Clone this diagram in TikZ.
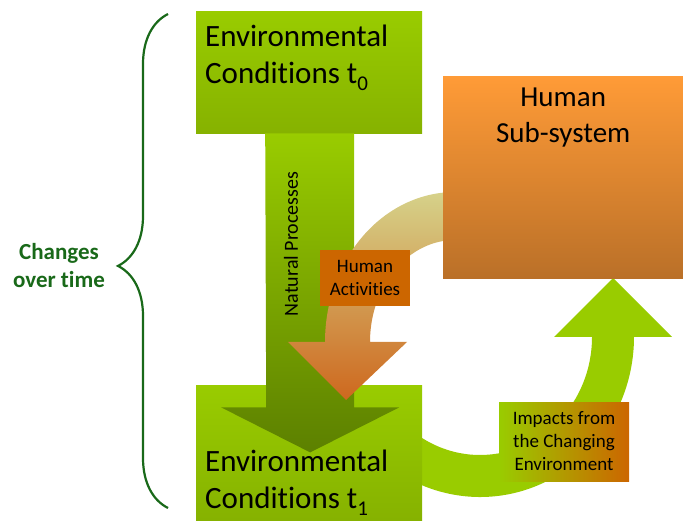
\documentclass[tikz,border=0pt]{standalone}
\usepackage{fontspec}
\setmainfont{Carlito}[Ligatures=NoCommon]
\definecolor{envgreen}{RGB}{153, 204, 0}
\definecolor{envdark}{RGB}{134, 178, 0}
\definecolor{arrowdark}{RGB}{92, 128, 0}
\definecolor{humtop}{RGB}{255, 155, 55}
\definecolor{humbot}{RGB}{186, 112, 40}
\definecolor{actorange}{RGB}{204, 102, 0}
\definecolor{actpale}{RGB}{214, 212, 140}
\definecolor{actmid}{RGB}{208, 152, 88}
\definecolor{actdark}{RGB}{206, 104, 30}
\definecolor{timegreen}{RGB}{25, 105, 25}
\usepackage{tikz}
\usetikzlibrary{decorations.pathreplacing}
\newcommand{\tsub}[1]{t\raisebox{-0.22em}{\fontsize{21}{21}\selectfont #1}}

\tikzset{
  envbox/.style={anchor=north west, inner xsep=9pt, top color=envgreen, bottom color=envdark, font=\fontsize{31}{37}\selectfont},
  labelbox/.style={align=center, inner sep=0pt, font=\fontsize{19}{23}\selectfont}
}

\begin{document}
\begin{tikzpicture}[x=1pt, y=1pt]
  \useasboundingbox (0,0) rectangle (683,520);

  % Impacts arrow (under the lower box)
  \coordinate (impc) at (480,183);
  \fill[envgreen] (impc) ++(215:154pt and 160pt)
    arc[start angle=215, end angle=360, x radius=154pt, y radius=160pt]
    -- (672,183) -- (613,242) -- (554,183) -- (592,183)
    arc[start angle=360, end angle=215, x radius=112pt, y radius=118pt] -- cycle;

  % Environmental conditions
  \node[envbox, inner ysep=4pt] (env1) at (196,135) {\parbox[c][127pt][b]{208pt}{\raggedright Environmental\\Conditions \tsub{1}\par\vspace{1pt}}};
  \node[envbox, inner ysep=14pt] (env0) at (196,509) {\parbox[c][94pt][t]{208pt}{\raggedright Environmental\\Conditions \tsub{0}}};

  % Natural processes arrow
  \shade[top color=envgreen, bottom color=arrowdark] ([xshift=-44pt]env0.south)
    -- ++(89,0) -- ++(0,-274) -- ++(45,0) -- ++(-89,-45) -- ++(-89,45) -- ++(45,0) -- cycle;
  \node[rotate=90, font=\fontsize{20}{24}\selectfont] (natproc) at (291,276) {Natural Processes};

  % Human activities arrow
  \coordinate (actc) at (455,178);
  \shade[top color=actpale, middle color=actmid, bottom color=actdark] (actc) ++(85:130pt and 150pt)
    arc[start angle=85, end angle=180, x radius=130pt, y radius=150pt]
    -- (288,178) -- (346,120) -- (407,178) -- (370,178)
    arc[start angle=180, end angle=85, x radius=85pt, y radius=102pt] -- cycle;

  % Human sub-system
  \node[anchor=north west, inner xsep=0pt, inner ysep=12pt, top color=humtop, bottom color=humbot, font=\fontsize{29}{36}\selectfont] (hsub) at (443,444) {\parbox[c][178pt][t]{240pt}{\centering Human\\Sub-system}};

  % Labels on the arrows
  \node[labelbox, fill=actorange, minimum width=90pt, minimum height=56pt] (hact) at (365,242) {Human\\Activities};
  \node[labelbox, left color=envgreen, right color=actorange, minimum width=130pt, minimum height=79pt] (impact) at (564,78.5) {Impacts from\\the Changing\\Environment};

  % Time brace
  \coordinate (bracebot) at (168,12);
  \coordinate (bracetop) at (168,506);
  \draw[timegreen, line width=2.2pt, decorate, decoration={brace, amplitude=50pt, aspect=0.49}] (bracebot) -- (bracetop);
  \node[font=\bfseries\fontsize{23}{28}\selectfont, text=timegreen, align=center] (change) at (59,254) {Changes\\over time};
\end{tikzpicture}
\end{document}
